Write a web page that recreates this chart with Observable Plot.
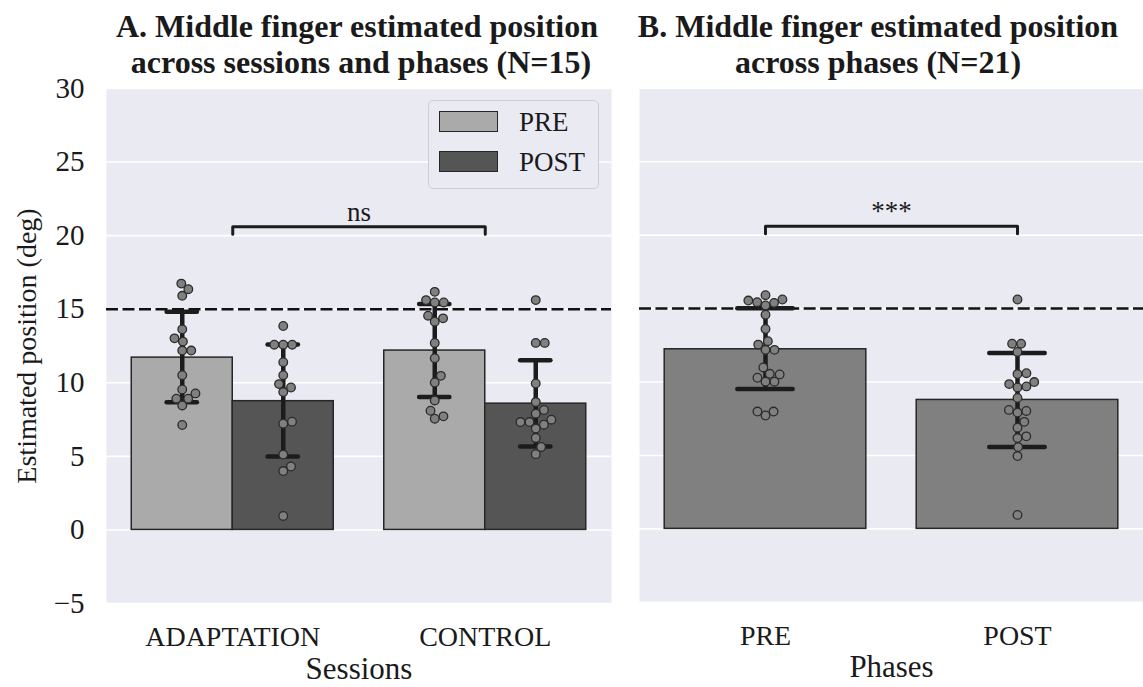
<!DOCTYPE html>
<html>
<head>
<meta charset="utf-8">
<script src="https://cdn.jsdelivr.net/npm/d3@7"></script>
<script src="https://cdn.jsdelivr.net/npm/@observablehq/plot@0.6"></script>
<style>
  html, body { margin:0; padding:0; background:#fff; }
  #root { position:relative; width:1143px; height:687px; overflow:hidden; font-family:'Liberation Serif','Times New Roman',serif; color:#1a1a1a; }
  .title { position:absolute; font-weight:bold; font-size:32px; line-height:36px; text-align:center; white-space:pre; transform:translateX(-50%); top:8px; }
  .chart { position:absolute; top:0; }
  #legend { position:absolute; left:428px; top:100px; width:171px; height:89px; border:1px solid #cfcfcf; border-radius:5px; background:#eaeaf2; box-sizing:border-box; }
  .sw { position:absolute; left:10px; width:59px; height:21px; border:1.5px solid #262626; box-sizing:border-box; }
  .lt { position:absolute; left:90px; font-size:27px; line-height:27px; }
</style>
</head>
<body>
<div id="root">
  <div class="title" style="left:357px;">A. Middle finger estimated position
 across sessions and phases (N=15)</div>
  <div class="title" style="left:878px;">B. Middle finger estimated position
across phases (N=21)</div>
  <div id="chartA" class="chart" style="left:0px;"></div>
  <div id="chartB" class="chart" style="left:639px;"></div>
  <div id="legend"></div>
</div>
<script>
// ---------- data ----------
const sessions = ["ADAPTATION", "CONTROL"];
const phases = ["PRE", "POST"];
const yTicks = [-5, 0, 5, 10, 15, 20, 25, 30];

// Panel A: mean, lower and upper error bar per session x phase
const meanA = [[11.71, 8.75], [12.19, 8.58]];
const lowA  = [[8.67, 4.99], [9.03, 5.67]];
const highA = [[14.83, 12.60], [15.35, 11.53]];

const adaptationPre  = [16.74, 16.36, 15.91, 13.63, 13.02, 12.80, 12.19, 12.19, 10.52, 9.55, 9.28, 8.92, 8.92, 8.46, 7.13];
const adaptationPost = [13.86, 12.59, 12.59, 12.59, 11.40, 10.52, 9.91, 9.68, 9.37, 7.36, 7.22, 5.12, 4.31, 4.00, 0.95];
const controlPre     = [16.18, 15.62, 15.46, 15.46, 14.56, 14.38, 14.15, 12.71, 11.67, 10.47, 10.02, 8.80, 8.10, 7.72, 7.56];
const controlPost    = [15.62, 12.71, 12.71, 9.95, 8.69, 8.15, 7.90, 7.49, 7.33, 7.33, 7.15, 6.89, 6.25, 5.64, 5.15];

// Panel B
const meanB = [12.23, 8.78];
const lowB  = [9.52, 5.57];
const highB = [15.03, 11.98];
const phasePre  = [15.91, 15.62, 15.55, 15.44, 15.39, 15.21, 14.58, 13.61, 12.78, 12.55, 12.19, 12.19, 10.99, 10.56, 10.52, 10.29, 10.02, 10.02, 7.99, 7.99, 7.72];
const phasePost = [15.62, 12.61, 12.61, 12.05, 10.54, 10.60, 10.00, 9.86, 9.70, 9.63, 8.92, 8.10, 8.03, 7.92, 7.29, 6.89, 6.30, 6.18, 5.57, 4.96, 0.95];

const referenceLine = 15;
const bracketY = 20.6, bracketDrop = 20.1;
const sigA = "ns", sigB = "***";

// ---------- layout / style ----------
const FONT = "'Liberation Serif','Times New Roman',serif";
const H = 687, MT = 88, MB = 84;
const frameW = 505;
const pxPerX = frameW / 2, pxPerY = (H - MT - MB) / 35;
const barFillA = ["#aaaaaa", "#555555"];
const barFillB = "#808080";
const ink = "#1c1c1c";

// seaborn-like swarm offsets (in pixels), converted to x units
function swarm(values, diameter) {
  const pts = values.map((v, i) => ({v, i, y: v * pxPerY, x: 0}));
  const order = [...pts].sort((a, b) => a.v - b.v);
  const placed = [];
  for (const p of order) {
    const cands = [0];
    for (const q of placed) {
      const dy = Math.abs(p.y - q.y);
      if (dy < diameter) {
        const dx = Math.sqrt(diameter * diameter - dy * dy);
        cands.push(q.x + dx, q.x - dx);
      }
    }
    cands.sort((a, b) => Math.abs(a) - Math.abs(b));
    for (const c of cands) {
      if (placed.every(q => (q.x - c) ** 2 + (q.y - p.y) ** 2 >= diameter * diameter - 1e-6)) { p.x = c; break; }
    }
    placed.push(p);
  }
  return pts.map(p => ({v: p.v, off: p.x / pxPerX}));
}

const DOT = {r: 4.3, fill: "#808080", stroke: "#2b2b2b", strokeWidth: 1.3};
const DASH = {stroke: "#111", strokeWidth: 2.5, strokeDasharray: "12,4.5"};

// ---------- Panel A ----------
const rawA = [[adaptationPre, adaptationPost], [controlPre, controlPost]];
const barsA = [];
const dotsA = [];
sessions.forEach((s, i) => phases.forEach((p, j) => {
  const xc = i + (j - 0.5) * 0.4;
  barsA.push({s, p, i, j, x1: i + (j - 1) * 0.4, x2: i + j * 0.4, xc, mean: meanA[i][j], lo: lowA[i][j], hi: highA[i][j]});
  swarm(rawA[i][j], 9).forEach(d => dotsA.push({x: xc + d.off, v: d.v}));
}));
const capA = 0.06;
const capsA = barsA.flatMap(d => [{xc: d.xc, v: d.lo}, {xc: d.xc, v: d.hi}]);

const chartA = Plot.plot({
  width: 612, height: H,
  marginLeft: 106, marginRight: 1, marginTop: MT, marginBottom: MB,
  style: {fontFamily: FONT, fontSize: "28px", color: "#1a1a1a", background: "transparent", overflow: "visible"},
  x: {domain: [-0.5, 1.5]},
  y: {domain: [-5, 30]},
  color: {domain: phases, range: barFillA},
  marks: [
    Plot.frame({fill: "#eaeaf2", stroke: null}),
    Plot.gridY(yTicks, {stroke: "white", strokeOpacity: 1, strokeWidth: 1.6}),
    Plot.rectY(barsA, {x1: "x1", x2: "x2", y1: 0, y2: "mean", fill: "p", stroke: "#262626", strokeWidth: 1.5}),
    Plot.ruleY([referenceLine], DASH),
    Plot.ruleX(barsA, {x: "xc", y1: "lo", y2: "hi", stroke: ink, strokeWidth: 4.5}),
    Plot.ruleY(capsA, {y: "v", x1: d => d.xc - capA, x2: d => d.xc + capA, stroke: ink, strokeWidth: 4.5, strokeLinecap: "round"}),
    Plot.dot(dotsA, {x: "x", y: "v", ...DOT}),
    Plot.line([{x: 0, y: bracketDrop}, {x: 0, y: bracketY}, {x: 1, y: bracketY}, {x: 1, y: bracketDrop}], {x: "x", y: "y", stroke: ink, strokeWidth: 3}),
    Plot.text([sigA], {x: 0.5, y: bracketY, lineAnchor: "bottom", dy: -6, fontSize: 27}),
    Plot.axisY({ticks: yTicks, tickSize: 0, tickPadding: 22, fontSize: 29, label: null}),
    Plot.axisX({ticks: [0, 1], tickFormat: i => sessions[i], tickSize: 0, tickPadding: 23, fontSize: 28, label: null}),
    Plot.text(["Sessions"], {frameAnchor: "bottom", dy: 75, fontSize: 31}),
    Plot.text(["Estimated position (deg)"], {frameAnchor: "left", textAnchor: "middle", rotate: -90, dx: -79, fontSize: 28})
  ]
});
document.getElementById("chartA").appendChild(chartA);

// ---------- Panel B ----------
const rawB = [phasePre, phasePost];
const barsB = phases.map((p, j) => ({p, j, x1: j - 0.4, x2: j + 0.4, xc: j, mean: meanB[j], lo: lowB[j], hi: highB[j]}));
const dotsB = [];
phases.forEach((p, j) => swarm(rawB[j], 9).forEach(d => dotsB.push({x: j + d.off, v: d.v})));
const capB = 0.11;
const capsB = barsB.flatMap(d => [{xc: d.xc, v: d.lo}, {xc: d.xc, v: d.hi}]);

const chartB = Plot.plot({
  width: frameW, height: H,
  marginLeft: 0, marginRight: 0, marginTop: MT, marginBottom: MB,
  style: {fontFamily: FONT, fontSize: "28px", color: "#1a1a1a", background: "transparent", overflow: "visible"},
  x: {domain: [-0.5, 1.5]},
  y: {domain: [-5, 30], axis: null},
  marks: [
    Plot.frame({fill: "#eaeaf2", stroke: null}),
    Plot.gridY(yTicks, {stroke: "white", strokeOpacity: 1, strokeWidth: 1.6}),
    Plot.rectY(barsB, {x1: "x1", x2: "x2", y1: 0, y2: "mean", fill: barFillB, stroke: "#262626", strokeWidth: 1.5}),
    Plot.ruleY([referenceLine], DASH),
    Plot.ruleX(barsB, {x: "xc", y1: "lo", y2: "hi", stroke: ink, strokeWidth: 4.5}),
    Plot.ruleY(capsB, {y: "v", x1: d => d.xc - capB, x2: d => d.xc + capB, stroke: ink, strokeWidth: 4.5, strokeLinecap: "round"}),
    Plot.dot(dotsB, {x: "x", y: "v", ...DOT}),
    Plot.line([{x: 0, y: bracketDrop}, {x: 0, y: bracketY}, {x: 1, y: bracketY}, {x: 1, y: bracketDrop}], {x: "x", y: "y", stroke: ink, strokeWidth: 3}),
    Plot.text([sigB], {x: 0.5, y: bracketY, lineAnchor: "bottom", dy: -6, fontSize: 27}),
    Plot.axisX({ticks: [0, 1], tickFormat: j => phases[j], tickSize: 0, tickPadding: 23, fontSize: 28, label: null}),
    Plot.text(["Phases"], {frameAnchor: "bottom", dy: 75, fontSize: 31})
  ]
});
document.getElementById("chartB").appendChild(chartB);

// ---------- legend ----------
const legend = document.getElementById("legend");
phases.forEach((p, j) => {
  const sw = document.createElement("div");
  sw.className = "sw";
  sw.style.top = (10 + j * 40) + "px";
  sw.style.background = barFillA[j];
  legend.appendChild(sw);
  const t = document.createElement("div");
  t.className = "lt";
  t.style.top = (8 + j * 40) + "px";
  t.textContent = p;
  legend.appendChild(t);
});
</script>
</body>
</html>
